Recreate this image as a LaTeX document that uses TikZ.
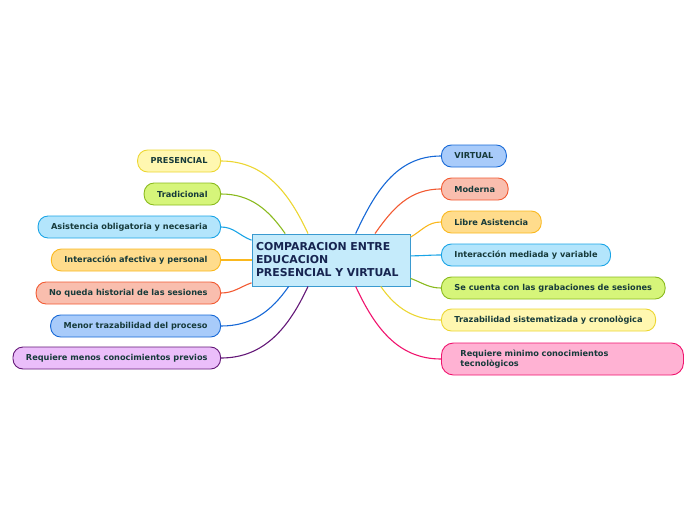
\documentclass[tikz,border=0pt]{standalone}
\usepackage{fontspec}
\setmainfont{DejaVu Sans}
\usetikzlibrary{positioning}

\begin{document}
\begin{tikzpicture}[x=1pt, y=-1pt,
    every node/.style={font=\bfseries\fontsize{8.2}{9.6}\selectfont, text=leaftext},
    leaf/.style={draw, line width=0.9pt, rounded corners=10pt, minimum height=22pt, inner xsep=13pt},
    link/.style={line width=1.1pt}]
    % Define consistent colors
    \definecolor{leaftext}{RGB}{22,58,58}
    \definecolor{roottext}{RGB}{22,36,80}
    \definecolor{yelfill}{RGB}{255,247,176}\definecolor{yelline}{RGB}{236,214,50}
    \definecolor{grnfill}{RGB}{214,245,122}\definecolor{grnline}{RGB}{138,186,30}
    \definecolor{cyafill}{RGB}{179,229,252}\definecolor{cyaline}{RGB}{26,164,230}
    \definecolor{orafill}{RGB}{255,220,140}\definecolor{oraline}{RGB}{250,184,30}
    \definecolor{redfill}{RGB}{249,190,174}\definecolor{redline}{RGB}{242,90,50}
    \definecolor{blufill}{RGB}{168,203,250}\definecolor{bluline}{RGB}{22,104,214}
    \definecolor{viofill}{RGB}{235,190,250}\definecolor{violine}{RGB}{100,24,120}
    \definecolor{pnkfill}{RGB}{255,178,211}\definecolor{pnkline}{RGB}{240,20,110}
    \definecolor{rootfill}{RGB}{197,235,251}\definecolor{rootline}{RGB}{58,154,208}

    \useasboundingbox (0,0) rectangle (696,520);

    % Central topic
    \node[draw=rootline, fill=rootfill, line width=0.9pt, align=left, text=roottext,
          font=\bfseries\fontsize{10.9}{13}\selectfont, minimum width=158pt, minimum height=52pt,
          inner xsep=4pt, text width=150pt] (root) at (331,260)
        {COMPARACION ENTRE\\EDUCACION\\PRESENCIAL Y VIRTUAL};

    % Left branch
    \node[leaf, draw=yelline, fill=yelfill, anchor=east] (pres) at (221,161) {PRESENCIAL};
    \node[leaf, draw=grnline, fill=grnfill, anchor=east] (trad) at (221,194) {Tradicional};
    \node[leaf, draw=cyaline, fill=cyafill, anchor=east] (asis) at (221,227) {Asistencia obligatoria y necesaria};
    \node[leaf, draw=oraline, fill=orafill, anchor=east] (inta) at (221,260) {Interacción afectiva y personal};
    \node[leaf, draw=redline, fill=redfill, anchor=east] (hist) at (221,293) {No queda historial de las sesiones};
    \node[leaf, draw=bluline, fill=blufill, anchor=east] (menr) at (221,326) {Menor trazabilidad del proceso};
    \node[leaf, draw=violine, fill=viofill, anchor=east] (reqp) at (221,358) {Requiere menos conocimientos previos};

    % Right branch
    \node[leaf, draw=bluline, fill=blufill, anchor=west] (virt) at (441,156) {VIRTUAL};
    \node[leaf, draw=redline, fill=redfill, anchor=west] (mode) at (441,189) {Moderna};
    \node[leaf, draw=oraline, fill=orafill, anchor=west] (libr) at (441,222) {Libre Asistencia};
    \node[leaf, draw=cyaline, fill=cyafill, anchor=west] (intm) at (441,255) {Interacción mediada y variable};
    \node[leaf, draw=grnline, fill=grnfill, anchor=west] (grab) at (441,288) {Se cuenta con las grabaciones de sesiones};
    \node[leaf, draw=yelline, fill=yelfill, anchor=west] (traz) at (441,320) {Trazabilidad sistematizada y cronològica};
    \node[leaf, draw=pnkline, fill=pnkfill, anchor=west, minimum height=32pt, align=left,
          text width=204pt, inner xsep=19pt, rounded corners=12pt] (reqm) at (441,359)
        {Requiere mìnimo conocimientos\\tecnològicos};

    % Connectors
    \draw[link, yelline] (pres.east) to[out=0, in=115] (root.131);
    \draw[link, grnline] (trad.east) to[out=0, in=125] (root.150);
    \draw[link, cyaline] (asis.east) to[out=0, in=160] (root.166);
    \draw[link, oraline] (inta.east) -- (root.180);
    \draw[link, redline] (hist.east) to[out=0, in=200] (root.196);
    \draw[link, bluline] (menr.east) to[out=0, in=235] (root.212);
    \draw[link, violine] (reqp.east) to[out=0, in=245] (root.229);

    \draw[link, bluline] (virt.west) to[out=180, in=65] (root.47);
    \draw[link, redline] (mode.west) to[out=180, in=55] (root.31);
    \draw[link, oraline] (libr.west) to[out=180, in=30] (root.16);
    \draw[link, cyaline] (intm.west) to[out=180, in=0] (root.3);
    \draw[link, grnline] (grab.west) to[out=180, in=-20] (root.-13);
    \draw[link, yelline] (traz.west) to[out=180, in=-55] (root.-28);
    \draw[link, pnkline] (reqm.west) to[out=180, in=-65] (root.-47);
\end{tikzpicture}
\end{document}
